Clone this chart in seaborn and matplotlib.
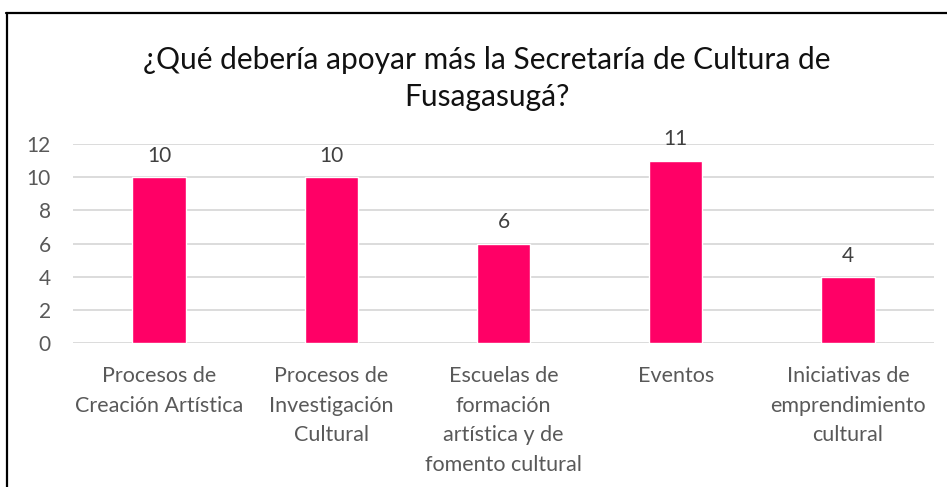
import matplotlib
matplotlib.use('Agg')
import matplotlib.pyplot as plt
import seaborn as sns
import pandas as pd
from matplotlib.lines import Line2D

# Chart data
categories = ['Procesos de\nCreación Artística',
              'Procesos de\nInvestigación\nCultural',
              'Escuelas de\nformación\nartística y de\nfomento cultural',
              'Eventos',
              'Iniciativas de\nemprendimiento\ncultural']
counts = [10, 10, 6, 11, 4]
y_ticks = [0, 2, 4, 6, 8, 10, 12]
title = '¿Qué debería apoyar más la Secretaría de Cultura de\nFusagasugá?'

df = pd.DataFrame({'categoria': categories, 'respuestas': counts})

sns.set_theme(style='white')
plt.rcParams['font.family'] = ['Lato', 'DejaVu Sans']

fig = plt.figure(figsize=(9.47, 4.87), dpi=100)
ax = fig.add_axes([73 / 947, 1 - 343 / 487, 861 / 947, 199 / 487])

sns.barplot(data=df, x='categoria', y='respuestas', color='#FF0066',
            width=0.31, saturation=1, ax=ax)

ax.set_ylim(0, 12)
ax.set_yticks(y_ticks)
ax.yaxis.grid(True, color='#d9d9d9', linewidth=1.3)
ax.set_axisbelow(True)
for s in ax.spines.values():
    s.set_visible(False)
ax.set_xlabel('')
ax.set_ylabel('')
ax.tick_params(axis='y', length=0, pad=16, labelsize=15, labelcolor='#595959')
ax.tick_params(axis='x', length=0, pad=16.5, labelsize=15.5, labelcolor='#595959')
for lbl in ax.get_xticklabels():
    lbl.set_linespacing(1.6)

ax.bar_label(ax.containers[0], padding=8, fontsize=15, color='#404040')

fig.text(487 / 947, 1 - 46 / 487, title, ha='center', va='top',
         fontsize=21.5, color='#111111', linespacing=1.4)

# black frame (top and left edges visible)
fig.add_artist(Line2D([6 / 947, 1], [1 - 12.5 / 487] * 2, color='black', lw=1.6,
                      transform=fig.transFigure))
fig.add_artist(Line2D([6.5 / 947] * 2, [0, 1 - 12.5 / 487], color='black', lw=1.6,
                      transform=fig.transFigure))

fig.savefig('out.png', dpi=100)
